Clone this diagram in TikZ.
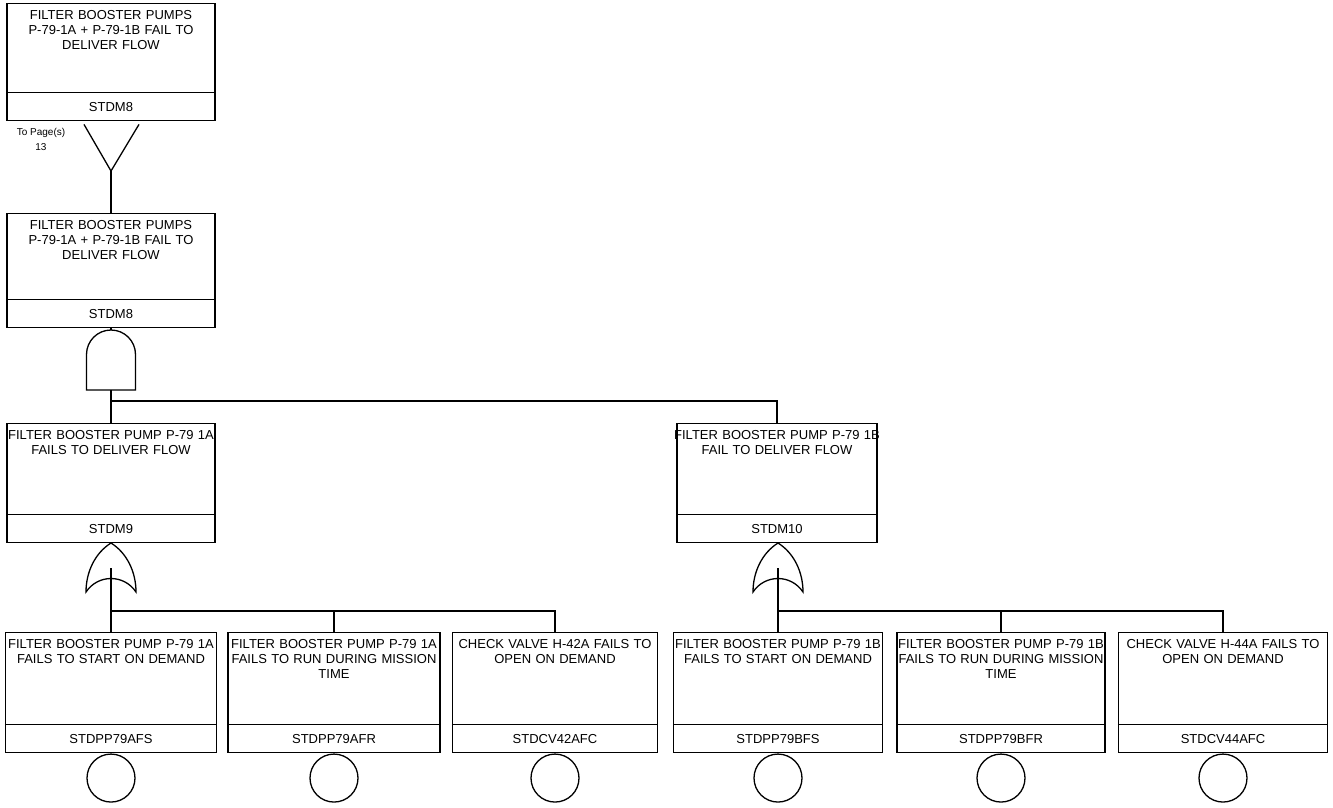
\documentclass[tikz,border=0pt]{standalone}
\usepackage{fontspec}
\setmainfont{Liberation Sans}
\begin{document}
\begin{tikzpicture}[x=1pt,y=-1pt,line width=1.3pt,
  evb/.style={draw,rectangle,inner sep=0pt,line width=1.4pt},
  evt/.style={inner sep=0pt,align=center,font=\fontsize{13}{15}\selectfont},
  gatep/.style={draw,line width=1.3pt,fill=white},
  basic/.style={draw,circle,inner sep=0pt,minimum size=48pt,line width=1.3pt}]
\useasboundingbox (0,0) rectangle (1333,807);
\newcommand{\evbox}[7]{%
  \node[evb,minimum width=#4pt,minimum height=#5pt,anchor=north] (#1) at (#2,#3) {};
  \node[evt,text width=#4pt+24pt,anchor=north] (#1t) at ([yshift=-7pt]#1.north) {#6};
  \draw[line width=1.2pt] ([yshift=29pt]#1.south west) -- ([yshift=29pt]#1.south east);
  \node[evt] (#1id) at ([yshift=14pt]#1.south) {#7};
}
% boxes
\evbox{top}{111}{3}{208}{117}{FILTER BOOSTER PUMPS\\P-79-1A + P-79-1B FAIL TO\\DELIVER FLOW}{STDM8}
\evbox{mid}{111}{213}{208}{114}{FILTER BOOSTER PUMPS\\P-79-1A + P-79-1B FAIL TO\\DELIVER FLOW}{STDM8}
\evbox{b9}{111}{423}{208}{119}{FILTER BOOSTER PUMP P-79 1A\\FAILS TO DELIVER FLOW}{STDM9}
\evbox{b10}{777}{423}{200}{119}{FILTER BOOSTER PUMP P-79 1B\\FAIL TO DELIVER FLOW}{STDM10}
\evbox{e1}{111}{632}{211}{120}{FILTER BOOSTER PUMP P-79 1A\\FAILS TO START ON DEMAND}{STDPP79AFS}
\evbox{e2}{334}{632}{212}{120}{FILTER BOOSTER PUMP P-79 1A\\FAILS TO RUN DURING MISSION\\TIME}{STDPP79AFR}
\evbox{e3}{555}{632}{205}{120}{CHECK VALVE H-42A FAILS TO\\OPEN ON DEMAND}{STDCV42AFC}
\evbox{e4}{778}{632}{209}{120}{FILTER BOOSTER PUMP P-79 1B\\FAILS TO START ON DEMAND}{STDPP79BFS}
\evbox{e5}{1001}{632}{208}{120}{FILTER BOOSTER PUMP P-79 1B\\FAILS TO RUN DURING MISSION\\TIME}{STDPP79BFR}
\evbox{e6}{1223}{632}{209}{120}{CHECK VALVE H-44A FAILS TO\\OPEN ON DEMAND}{STDCV44AFC}
% transfer gate
\coordinate (tv) at (111,171);
\draw ([xshift=-27pt,yshift=-3pt]top.south) -- (tv) -- ([xshift=28pt,yshift=-3pt]top.south);
\draw (tv) -- (mid.north);
\node[inner sep=0pt,align=center,font=\fontsize{10}{15}\selectfont] (tp) at (41,139) {To Page(s)\\13};
% AND gate
\coordinate (andtop) at (111,330);
\coordinate (andbot) at (111,390);
\draw (mid.south) -- (andtop);
\draw[gatep] (86.5,390) -- (86.5,354.5) arc[start angle=180,end angle=360,radius=24.5] -- (135.5,390) -- cycle;
\coordinate (h0) at (111,401);
\draw (andbot) -- (b9.north);
\draw (h0) -| (b10.north);
% OR gate 1
\coordinate (or1top) at (111,543);
\coordinate (or1in) at (111,568);
\draw[gatep] (or1top) .. controls (95,553) and (86,572) .. (86,592)
   .. controls (98,574) and (124,574) .. (136,592)
   .. controls (136,572) and (127,553) .. (or1top) -- cycle;
\draw (b9.south) -- (or1top);
\coordinate (h1) at (111,611);
\draw (or1in) -- (e1.north);
\draw (h1) -| (e2.north);
\draw (h1) -| (e3.north);
% OR gate 2
\coordinate (or2top) at (778,543);
\coordinate (or2in) at (778,568);
\draw[gatep] (or2top) .. controls (762,553) and (753,572) .. (753,592)
   .. controls (765,574) and (791,574) .. (803,592)
   .. controls (803,572) and (794,553) .. (or2top) -- cycle;
\draw (b10.south) -- (or2top);
\coordinate (h2) at (778,611);
\draw (or2in) -- (e4.north);
\draw (h2) -| (e5.north);
\draw (h2) -| (e6.north);
% basic events
\foreach \e in {e1,e2,e3,e4,e5,e6}{
  \node[basic,anchor=north] (\e c) at (\e.south) {};
}
\end{tikzpicture}
\end{document}
